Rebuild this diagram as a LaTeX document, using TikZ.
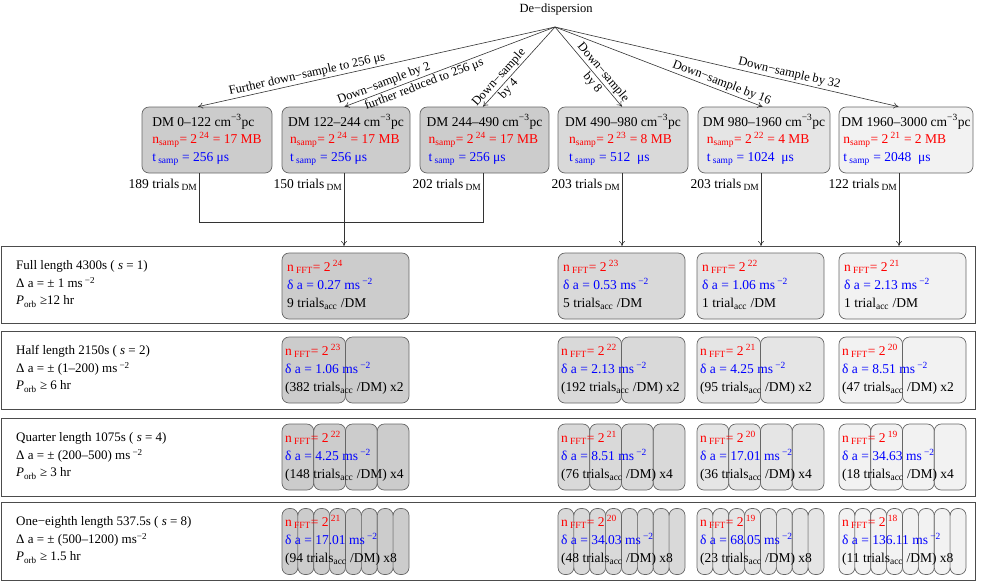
\documentclass[tikz,border=0pt]{standalone}
\usepackage{fontspec}
\setmainfont{Liberation Serif}
\usetikzlibrary{arrows.meta,calc}
\newcommand{\lsub}[1]{\textsubscript{#1}}
\newcommand{\lsup}[1]{\textsuperscript{#1}}
\newcommand{\rtxt}[3]{{\color{red}n\,\lsub{FFT}= 2\,\lsup{#1}}\\{\color{blue}δ a = #2 ms\,\lsup{−2}}\\#3}
\newcommand{\dmtxt}[5]{DM #1 cm\lsup{−3}pc\\{\color{red}\hspace*{#5}n\lsub{samp}= 2\,\lsup{#2} = #3 MB}\\{\color{blue}\hspace*{#5}t\,\lsub{samp} = #4 μs}}
\begin{document}
\begin{tikzpicture}[x=1pt,y=-1pt]
\tikzset{
 dmbox/.style={draw=black!60, line width=0.7pt, rounded corners=7pt, minimum height=66pt, inner sep=2pt, align=left, font=\fontsize{13.5}{17.5}\selectfont},
 subbox/.style={draw=black!60, line width=0.7pt, rounded corners=7pt, minimum height=66pt, inner sep=0pt},
 rowframe/.style={draw=black!70, line width=1pt, inner sep=0pt, anchor=north west, minimum width=974pt},
 conn/.style={draw=black!80, line width=0.6pt},
 arr/.style={conn, -{To[length=5pt,width=6pt]}},
 lbl/.style={font=\fontsize{12.5}{15}\selectfont, inner sep=1.5pt},
 cnt/.style={font=\fontsize{13.5}{15}\selectfont, inner sep=1.5pt, anchor=north east, yshift=-4pt},
 boxtext/.style={align=left, anchor=west, inner sep=0pt, font=\fontsize{13.5}{18}\selectfont},
 rowtext/.style={align=left, anchor=west, inner sep=0pt, font=\fontsize{13}{17.5}\selectfont}
}
\useasboundingbox (0,0) rectangle (981,582);

% title and apex
\node[lbl] (dd) at (556,9) {De−dispersion};
\coordinate (apex) at (555,27);

% DM boxes
\node[dmbox, fill=black!20, minimum width=130pt] (dm1) at (207,140) {\dmtxt{0–122}{24}{17}{256}{0pt}};
\node[dmbox, fill=black!20, minimum width=128pt] (dm2) at (346,140) {\dmtxt{122–244}{24}{17}{256}{2pt}};
\node[dmbox, fill=black!20, minimum width=129pt] (dm3) at (484.5,140) {\dmtxt{244–490}{24}{17}{256}{2pt}};
\node[dmbox, fill=black!15, minimum width=130pt] (dm4) at (623,140) {\dmtxt{490–980}{23}{8}{512\ }{4pt}};
\node[dmbox, fill=black!10, minimum width=132pt] (dm5) at (764,140) {\dmtxt{980–1960}{22}{4}{1024\ }{4pt}};
\node[dmbox, fill=black!5, minimum width=134pt] (dm6) at (906,140) {\dmtxt{1960–3000}{21}{2}{2048\ }{2pt}};

% attachment points
\coordinate (c1t) at ([xshift=-9pt]dm1.north);
\coordinate (c2t) at ([xshift=-1.5pt]dm2.north);
\coordinate (c3t) at ([xshift=-1.5pt]dm3.north);
\coordinate (c4t) at ([xshift=-1pt]dm4.north);
\coordinate (c5t) at ([xshift=-1.5pt]dm5.north);
\coordinate (c6t) at ([xshift=-7.5pt]dm6.north);
\coordinate (c1b) at ([xshift=-8pt]dm1.south);
\coordinate (c2b) at ([xshift=-2pt]dm2.south);
\coordinate (c3b) at ([xshift=-1.5pt]dm3.south);
\coordinate (c4b) at ([xshift=-1pt]dm4.south);
\coordinate (c5b) at ([xshift=-3pt]dm5.south);
\coordinate (c6b) at ([xshift=-7pt]dm6.south);

% arrows from de-dispersion
\draw[arr] (apex) -- node[lbl, sloped, above, pos=0.69] (la1) {Further down−sample to 256 μs} (c1t);
\draw[arr] (apex) -- node[lbl, sloped, above, pos=0.80] (la2) {Down−sample by 2}
  node[lbl, sloped, below, pos=0.634] (lb2) {further reduced to 256 μs} (c2t);
\draw[arr] (apex) -- node[lbl, sloped, above, pos=0.70] (la3) {Down−sample}
  node[lbl, sloped, below, pos=0.72] (lb3) {by 4} (c3t);
\draw[arr] (apex) -- node[lbl, sloped, above, pos=0.63] (la4) {Down−sample}
  node[lbl, sloped, below, pos=0.64] (lb4) {by 8} (c4t);
\draw[arr] (apex) -- node[lbl, sloped, above, pos=0.79] (la5) {Down−sample by 16} (c5t);
\draw[arr] (apex) -- node[lbl, sloped, above, pos=0.677] (la6) {Down−sample by 32} (c6t);

% trial counts
\node[cnt] (n1) at (c1b) {189 trials\,\lsub{DM}};
\node[cnt] (n2) at (c2b) {150 trials\,\lsub{DM}};
\node[cnt] (n3) at (c3b) {202 trials\,\lsub{DM}};
\node[cnt] (n4) at (c4b) {203 trials\,\lsub{DM}};
\node[cnt] (n5) at (c5b) {203 trials\,\lsub{DM}};
\node[cnt] (n6) at (c6b) {122 trials\,\lsub{DM}};

% row frames
\node[rowframe, minimum height=77pt] (fr1) at (1,246) {};
\node[rowframe, minimum height=78pt] (fr2) at (1,331) {};
\node[rowframe, minimum height=78pt] (fr3) at (1,418) {};
\node[rowframe, minimum height=78pt] (fr4) at (1,502) {};

% connectors to row 1
\path (c2b) ++(0,49) coordinate (jn);
\draw[conn] (c1b) |- (jn) -| (c3b);
\draw[arr] (c2b) -- (c2b |- fr1.north);
\draw[arr] (c4b) -- (c4b |- fr1.north);
\draw[arr] (c5b) -- (c5b |- fr1.north);
\draw[arr] (c6b) -- (c6b |- fr1.north);

% sub boxes
\foreach \r/\yc/\n in {1/286/1, 2/370/2, 3/457/4, 4/541.5/8} {
  \pgfmathsetmacro\w{127/\n}
  \foreach \c/\L/\col in {A/282/black!20, B/558/black!15, C/697/black!10, D/839/black!5} {
    \foreach \k in {1,...,\n} {
      \node[subbox, fill=\col, minimum width=\w pt] (b\r\c\k) at ({\L+(\k-0.5)*\w}, \yc) {};
    }
  }
}

% row left texts
\node[rowtext] (l1) at (16,284) {Full length 4300s ( \textit{s} = 1)\\Δ a = ± 1 ms\,\lsup{−2}\\\textit{P}\lsub{orb} ≥12 hr};
\node[rowtext] (l2) at (16,369) {Half length 2150s ( \textit{s} = 2)\\Δ a = ± (1–200) ms\,\lsup{−2}\\\textit{P}\lsub{orb} ≥ 6 hr};
\node[rowtext] (l3) at (16,456) {Quarter length 1075s ( \textit{s} = 4)\\Δ a = ± (200–500) ms\,\lsup{−2}\\\textit{P}\lsub{orb} ≥ 3 hr};
\node[rowtext] (l4) at (16,540) {One−eighth length 537.5s ( \textit{s}  = 8)\\Δ a = ± (500–1200) ms\lsup{−2}\\\textit{P}\lsub{orb} ≥ 1.5 hr};

% box texts
\node[boxtext] (t1A) at (287,285) {\rtxt{24}{0.27}{9 trials\lsub{acc} /DM}};
\node[boxtext] (t1B) at (563,285) {\rtxt{23}{0.53}{5 trials\lsub{acc} /DM}};
\node[boxtext] (t1C) at (702,285) {\rtxt{22}{1.06}{1 trial\lsub{acc} /DM}};
\node[boxtext] (t1D) at (844,285) {\rtxt{21}{2.13}{1 trial\lsub{acc} /DM}};

\node[boxtext] (t2A) at (285,369) {\rtxt{23}{1.06}{(382 trials\lsub{acc} /DM) x2}};
\node[boxtext] (t2B) at (561,369) {\rtxt{22}{2.13}{(192 trials\lsub{acc} /DM) x2}};
\node[boxtext] (t2C) at (700,369) {\rtxt{21}{4.25}{(95 trials\lsub{acc} /DM) x2}};
\node[boxtext] (t2D) at (842,369) {\rtxt{20}{8.51}{(47 trials\lsub{acc} /DM) x2}};

\node[boxtext] (t3A) at (285,456) {\rtxt{22}{4.25}{(148 trials\lsub{acc} /DM) x4}};
\node[boxtext] (t3B) at (561,456) {\rtxt{21}{8.51}{(76 trials\lsub{acc} /DM) x4}};
\node[boxtext] (t3C) at (700,456) {\rtxt{20}{17.01}{(36 trials\lsub{acc} /DM) x4}};
\node[boxtext] (t3D) at (842,456) {\rtxt{19}{34.63}{(18 trials\lsub{acc} /DM) x4}};

\node[boxtext] (t4A) at (285,540) {\rtxt{21}{17.01}{(94 trials\lsub{acc} /DM) x8}};
\node[boxtext] (t4B) at (561,540) {\rtxt{20}{34.03}{(48 trials\lsub{acc} /DM) x8}};
\node[boxtext] (t4C) at (700,540) {\rtxt{19}{68.05}{(23 trials\lsub{acc} /DM) x8}};
\node[boxtext] (t4D) at (842,540) {\rtxt{18}{136.11}{(11 trials\lsub{acc} /DM) x8}};
\end{tikzpicture}
\end{document}
